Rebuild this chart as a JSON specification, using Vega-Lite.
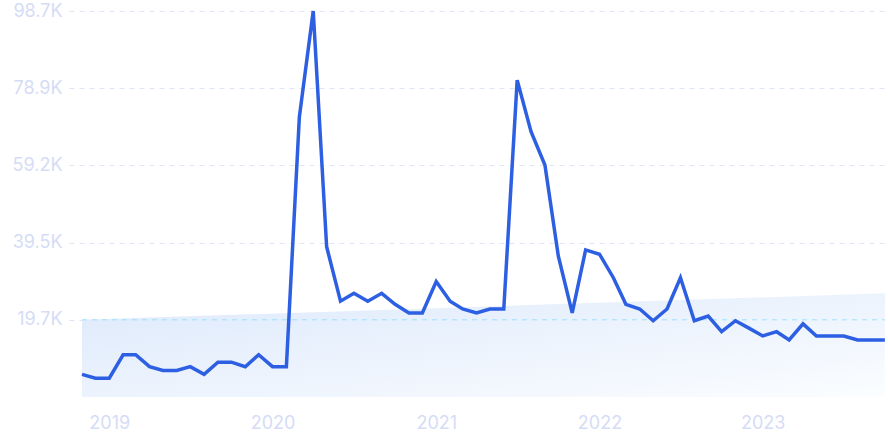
{
  "$schema": "https://vega.github.io/schema/vega-lite/v6.json",
  "width": 819,
  "height": 386,
  "autosize": {"type": "none"},
  "padding": {"left": 69, "top": 11, "right": 0, "bottom": 46},
  "background": "white",
  "config": {"view": {"stroke": null}, "font": "Inter"},
  "datasets": {
    "main": [
      {"date": "2018-11-01", "value": 5800},
      {"date": "2018-12-01", "value": 4800},
      {"date": "2019-01-01", "value": 4800},
      {"date": "2019-02-01", "value": 10800},
      {"date": "2019-03-01", "value": 10800},
      {"date": "2019-04-01", "value": 7750},
      {"date": "2019-05-01", "value": 6800},
      {"date": "2019-06-01", "value": 6800},
      {"date": "2019-07-01", "value": 7750},
      {"date": "2019-08-01", "value": 5800},
      {"date": "2019-09-01", "value": 8900},
      {"date": "2019-10-01", "value": 8900},
      {"date": "2019-11-01", "value": 7750},
      {"date": "2019-12-01", "value": 10800},
      {"date": "2020-01-01", "value": 7750},
      {"date": "2020-02-01", "value": 7750},
      {"date": "2020-03-01", "value": 71600},
      {"date": "2020-04-01", "value": 98680},
      {"date": "2020-05-01", "value": 38400},
      {"date": "2020-06-01", "value": 24500},
      {"date": "2020-07-01", "value": 26500},
      {"date": "2020-08-01", "value": 24500},
      {"date": "2020-09-01", "value": 26500},
      {"date": "2020-10-01", "value": 23700},
      {"date": "2020-11-01", "value": 21500},
      {"date": "2020-12-01", "value": 21500},
      {"date": "2021-01-01", "value": 29500},
      {"date": "2021-02-01", "value": 24500},
      {"date": "2021-03-01", "value": 22500},
      {"date": "2021-04-01", "value": 21500},
      {"date": "2021-05-01", "value": 22500},
      {"date": "2021-06-01", "value": 22500},
      {"date": "2021-07-01", "value": 81000},
      {"date": "2021-08-01", "value": 67800},
      {"date": "2021-09-01", "value": 59300},
      {"date": "2021-10-01", "value": 36000},
      {"date": "2021-11-01", "value": 21500},
      {"date": "2021-12-01", "value": 37600},
      {"date": "2022-01-01", "value": 36500},
      {"date": "2022-02-01", "value": 30500},
      {"date": "2022-03-01", "value": 23700},
      {"date": "2022-04-01", "value": 22500},
      {"date": "2022-05-01", "value": 19500},
      {"date": "2022-06-01", "value": 22500},
      {"date": "2022-07-01", "value": 30500},
      {"date": "2022-08-01", "value": 19500},
      {"date": "2022-09-01", "value": 20700},
      {"date": "2022-10-01", "value": 16700},
      {"date": "2022-11-01", "value": 19500},
      {"date": "2022-12-01", "value": 17600},
      {"date": "2023-01-01", "value": 15600},
      {"date": "2023-02-01", "value": 16700},
      {"date": "2023-03-01", "value": 14600},
      {"date": "2023-04-01", "value": 18700},
      {"date": "2023-05-01", "value": 15600},
      {"date": "2023-06-01", "value": 15600},
      {"date": "2023-07-01", "value": 15600},
      {"date": "2023-08-01", "value": 14600},
      {"date": "2023-09-01", "value": 14600},
      {"date": "2023-10-01", "value": 14600}
    ],
    "trend": [
      {"date": "2018-11-01", "value": 19736},
      {"date": "2023-10-01", "value": 26500}
    ],
    "ref": [
      {"start": "2018-11-01", "end": "2023-10-01", "value": 19736}
    ]
  },
  "encoding": {
    "x": {
      "field": "date",
      "type": "temporal",
      "scale": {
        "type": "utc",
        "domain": [
          {"year": 2018, "month": 10, "date": 3, "utc": true},
          {"year": 2023, "month": 10, "date": 8, "utc": true}
        ]
      },
      "axis": {
        "title": null,
        "format": "%Y",
        "tickCount": {"interval": "year", "step": 1},
        "grid": false,
        "domain": false,
        "ticks": false,
        "labelPadding": 17,
        "labelFontSize": 18,
        "labelColor": "#d5dcf6",
        "labelFont": "Inter"
      }
    },
    "y": {
      "field": "value",
      "type": "quantitative",
      "scale": {"domain": [0, 98680], "nice": false, "zero": true},
      "axis": {
        "title": null,
        "values": [19736, 39472, 59208, 78944, 98680],
        "labelExpr": "format(datum.value / 1000, '.1f') + 'K'",
        "grid": true,
        "gridColor": "#dde5f7",
        "gridDash": [5, 5],
        "gridWidth": 1,
        "domain": false,
        "ticks": false,
        "labelPadding": 7,
        "labelFontSize": 18,
        "labelColor": "#d5dcf6",
        "labelFont": "Inter"
      }
    }
  },
  "layer": [
    {
      "data": {"name": "trend"},
      "mark": {
        "type": "area",
        "color": {
          "gradient": "linear",
          "x1": 0, "y1": 0, "x2": 1, "y2": 1,
          "stops": [
            {"offset": 0, "color": "#dde9fb"},
            {"offset": 1, "color": "#fbfdff"}
          ]
        }
      }
    },
    {
      "data": {"name": "ref"},
      "mark": {"type": "rule", "color": "#9fe0fc", "strokeDash": [5, 5], "strokeWidth": 1},
      "encoding": {
        "x": {"field": "start", "type": "temporal"},
        "x2": {"field": "end"},
        "y": {"field": "value", "type": "quantitative"}
      }
    },
    {
      "data": {"name": "main"},
      "mark": {"type": "line", "color": "#2d5fe3", "strokeWidth": 3.5}
    }
  ]
}
